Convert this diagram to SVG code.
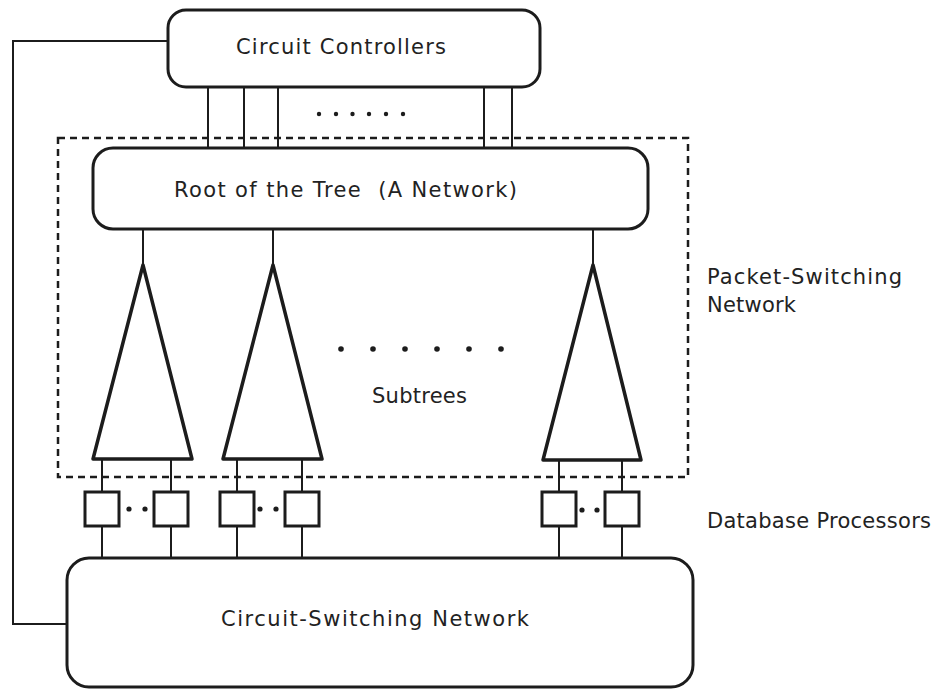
<svg xmlns="http://www.w3.org/2000/svg" width="934" height="690" viewBox="0 0 934 690">
<style>
.box{fill:none;stroke:#1c1c1c;stroke-width:3}
.tri{fill:none;stroke:#1c1c1c;stroke-width:3.5;stroke-linejoin:round}
.proc{fill:#fff;stroke:#1c1c1c;stroke-width:3}
.ln{fill:none;stroke:#1c1c1c;stroke-width:2}
.dash{fill:none;stroke:#1c1c1c;stroke-width:2.5;stroke-dasharray:7 5}
.dot{fill:#1c1c1c}
text{font-family:"DejaVu Sans","Liberation Sans",sans-serif;font-size:21px;fill:#222}
</style>
<rect x="0" y="0" width="934" height="690" fill="#fff"/>

<g id="packet-switching-network">
  <rect class="dash" x="58" y="138" width="630" height="339"/>
  <text x="707" y="284" textLength="195" lengthAdjust="spacing">Packet-Switching</text>
  <text x="707" y="312" textLength="89" lengthAdjust="spacing">Network</text>
</g>

<g id="connectors">
  <path class="ln" d="M168 41 H13 V624 H67"/>
  <path class="ln" d="M208 87 V148 M244 87 V148 M278 87 V148 M484 87 V148 M512 87 V148"/>
  <path class="ln" d="M143 229 V265 M273 229 V265 M593 229 V265"/>
  <path class="ln" d="M102 459 V492 M171 459 V492 M237 459 V492 M302 459 V492 M559 460 V492 M622 460 V492"/>
  <path class="ln" d="M102 526 V558 M171 526 V558 M237 526 V558 M302 526 V558 M559 526 V558 M622 526 V558"/>
</g>

<g id="circuit-controllers">
  <rect class="box" x="168" y="10" width="372" height="77" rx="18"/>
  <text x="236" y="54" textLength="210" lengthAdjust="spacing">Circuit Controllers</text>
</g>

<g id="controller-dots">
  <circle class="dot" cx="319" cy="114" r="2.2"/>
  <circle class="dot" cx="336" cy="114" r="2.2"/>
  <circle class="dot" cx="352.5" cy="114" r="2.2"/>
  <circle class="dot" cx="369" cy="114" r="2.2"/>
  <circle class="dot" cx="386" cy="114" r="2.2"/>
  <circle class="dot" cx="403" cy="114" r="2.2"/>
</g>

<g id="root">
  <rect class="box" x="93" y="148" width="555" height="81" rx="20"/>
  <text x="174" y="197" textLength="343" lengthAdjust="spacing" xml:space="preserve">Root of the Tree  (A Network)</text>
</g>

<g id="subtree-1">
  <polygon class="tri" points="143,265 192,459 93,459"/>
</g>
<g id="subtree-2">
  <polygon class="tri" points="273,265 322,459 223,459"/>
</g>
<g id="subtree-3">
  <polygon class="tri" points="593,265 641,460 543,460"/>
</g>

<g id="subtrees-label">
  <circle class="dot" cx="341" cy="349" r="2.8"/>
  <circle class="dot" cx="373" cy="349" r="2.8"/>
  <circle class="dot" cx="405" cy="349" r="2.8"/>
  <circle class="dot" cx="437" cy="349" r="2.8"/>
  <circle class="dot" cx="469" cy="349" r="2.8"/>
  <circle class="dot" cx="501" cy="349" r="2.8"/>
  <text x="372" y="403" textLength="95" lengthAdjust="spacing">Subtrees</text>
</g>

<g id="database-processors">
  <rect class="proc" x="85" y="492" width="34" height="34"/>
  <rect class="proc" x="154" y="492" width="34" height="34"/>
  <circle class="dot" cx="129" cy="509" r="2.6"/>
  <circle class="dot" cx="145" cy="509" r="2.6"/>
  <rect class="proc" x="220" y="492" width="34" height="34"/>
  <rect class="proc" x="285" y="492" width="34" height="34"/>
  <circle class="dot" cx="260" cy="509" r="2.6"/>
  <circle class="dot" cx="276" cy="509" r="2.6"/>
  <rect class="proc" x="542" y="492" width="34" height="34"/>
  <rect class="proc" x="605" y="492" width="34" height="34"/>
  <circle class="dot" cx="582" cy="510" r="2.6"/>
  <circle class="dot" cx="597" cy="510" r="2.6"/>
  <text x="707" y="528" textLength="224" lengthAdjust="spacing">Database Processors</text>
</g>

<g id="circuit-switching-network">
  <rect class="box" x="67" y="558" width="626" height="129" rx="22"/>
  <text x="221" y="626" textLength="308" lengthAdjust="spacing">Circuit-Switching Network</text>
</g>
</svg>
